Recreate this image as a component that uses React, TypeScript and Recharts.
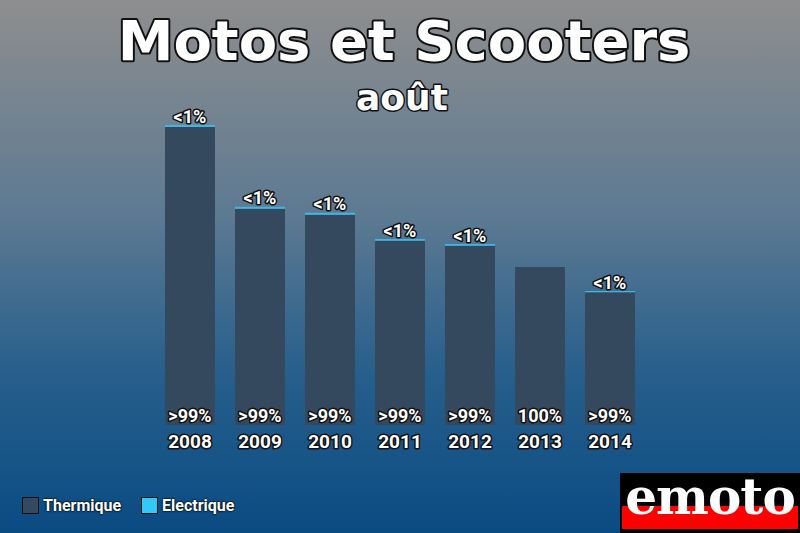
import { BarChart, Bar, XAxis, YAxis, LabelList } from 'recharts';

const years = ['2008', '2009', '2010', '2011', '2012', '2013', '2014'];
const thermique = [2980, 2162, 2102, 1842, 1792, 1580, 1327];
const electrique = [20, 20, 20, 18, 18, 0, 13];

function pctLabel(part: number, total: number) {
  const p = (part / total) * 100;
  if (p === 0) return '';
  if (p === 100) return '100%';
  if (p < 1) return '<1%';
  if (p > 99) return '>99%';
  return `${Math.round(p)}%`;
}

const chartData = years.map((year, i) => ({
  year,
  thermique: thermique[i],
  electrique: electrique[i],
  thermLabel: pctLabel(thermique[i], thermique[i] + electrique[i]),
  elecLabel: pctLabel(electrique[i], thermique[i] + electrique[i]),
}));

const outline = {
  fill: '#fff',
  stroke: '#111',
  strokeWidth: 3,
  paintOrder: 'stroke',
  strokeLinejoin: 'round',
} as const;

function YearTick(props: any) {
  const { x, y, payload } = props;
  return (
    <text
      x={x}
      y={y + 16}
      textAnchor="middle"
      dominantBaseline="central"
      fontFamily="Roboto, sans-serif"
      fontWeight={700}
      fontSize={19}
      {...outline}
    >
      {payload.value}
    </text>
  );
}

function ThermLabel(props: any) {
  const { x, y, width, height, value } = props;
  if (!value) return null;
  return (
    <text
      x={x + width / 2}
      y={y + height - 10}
      textAnchor="middle"
      dominantBaseline="central"
      fontFamily="Roboto, sans-serif"
      fontWeight={700}
      fontSize={18}
      {...outline}
    >
      {value}
    </text>
  );
}

function ElecLabel(props: any) {
  const { x, y, width, value } = props;
  if (!value) return null;
  return (
    <text
      x={x + width / 2}
      y={y - 9}
      textAnchor="middle"
      dominantBaseline="central"
      fontFamily="Roboto, sans-serif"
      fontWeight={700}
      fontSize={18}
      {...outline}
    >
      {value}
    </text>
  );
}

const legendItems = [
  { name: 'Thermique', color: '#34495e' },
  { name: 'Electrique', color: '#33c8fa' },
];

export default function App() {
  return (
    <div
      style={{
        position: 'fixed',
        left: 0,
        top: 0,
        width: 800,
        height: 533,
        overflow: 'hidden',
        background: 'linear-gradient(180deg, #8e8e8e 0%, #5d7a92 40%, #275f8c 70%, #0a4b82 100%)',
      }}
    >
      <svg width={800} height={120} style={{ position: 'absolute', left: 0, top: 0 }}>
        <text
          x={404}
          y={40}
          textAnchor="middle"
          dominantBaseline="central"
          fontFamily='"DejaVu Sans", sans-serif'
          fontWeight={700}
          fontSize={56}
          {...outline}
          strokeWidth={4}
        >
          Motos et Scooters
        </text>
        <text
          x={402}
          y={97}
          textAnchor="middle"
          dominantBaseline="central"
          fontFamily='"DejaVu Sans", sans-serif'
          fontWeight={700}
          fontSize={36}
          {...outline}
        >
          août
        </text>
      </svg>
      <div style={{ position: 'absolute', left: 0, top: 0 }}>
        <BarChart
          width={800}
          height={533}
          data={chartData}
          margin={{ top: 125, right: 155, left: 155, bottom: 78 }}
          barCategoryGap={10}
        >
          <XAxis
            dataKey="year"
            axisLine={false}
            tickLine={false}
            tickSize={0}
            tickMargin={0}
            height={30}
            tick={<YearTick />}
          />
          <YAxis hide domain={[0, 3000]} />
          <Bar dataKey="thermique" stackId="a" fill="#34495e" isAnimationActive={false}>
            <LabelList dataKey="thermLabel" content={<ThermLabel />} />
          </Bar>
          <Bar dataKey="electrique" stackId="a" fill="#3bb8e8" isAnimationActive={false}>
            <LabelList dataKey="elecLabel" content={<ElecLabel />} />
          </Bar>
        </BarChart>
      </div>
      <div
        style={{
          position: 'absolute',
          left: 22,
          top: 496,
          display: 'flex',
          alignItems: 'center',
          gap: 20,
        }}
      >
        {legendItems.map((it) => (
          <div key={it.name} style={{ display: 'flex', alignItems: 'center' }}>
            <span
              style={{
                display: 'inline-block',
                width: 15,
                height: 15,
                background: it.color,
                border: '1px solid #111',
                marginRight: 4,
              }}
            />
            <span
              style={{
                color: '#fff',
                fontFamily: '"Liberation Sans Narrow", "Roboto", sans-serif',
                fontWeight: 700,
                fontSize: 16,
                textShadow: '0 0 2px #000, 0 0 2px #000',
              }}
            >
              {it.name}
            </span>
          </div>
        ))}
      </div>
      <div
        style={{
          position: 'absolute',
          left: 620,
          top: 473,
          width: 180,
          height: 60,
          background: '#000',
        }}
      >
        <div
          style={{
            position: 'absolute',
            left: 2,
            top: 33,
            width: 176,
            height: 23,
            background: '#ff0000',
          }}
        />
        <div
          style={{
            position: 'absolute',
            left: 0,
            top: -6,
            width: 180,
            textAlign: 'center',
            color: '#fff',
            fontFamily: '"DejaVu Serif", serif',
            fontWeight: 700,
            fontSize: 50,
            letterSpacing: -1,
            lineHeight: '60px',
          }}
        >
          emoto
        </div>
      </div>
    </div>
  );
}
